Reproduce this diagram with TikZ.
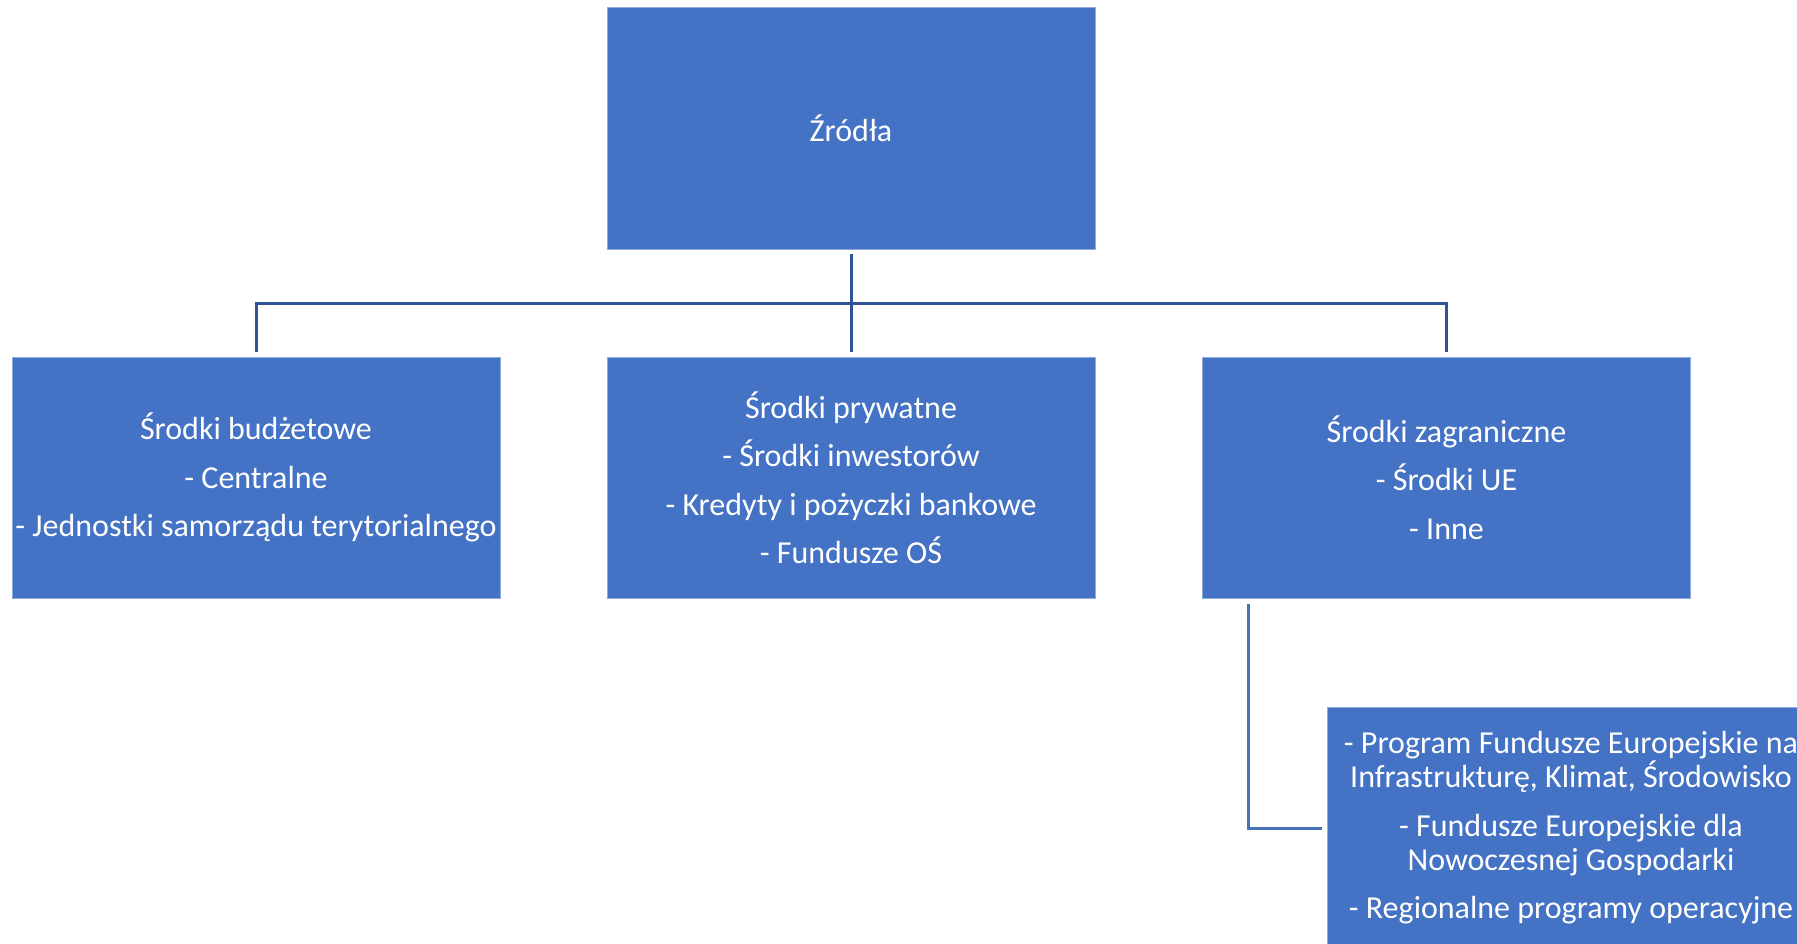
\documentclass[tikz,border=0pt]{standalone}
\usepackage{fontspec}
\setmainfont{Carlito}
\definecolor{boxblue}{HTML}{4472C4}
\definecolor{edgeblue}{HTML}{8FAADC}
\definecolor{linedark}{HTML}{2F5597}
\definecolor{linemid}{HTML}{4A72B8}
\tikzset{
  box/.style={fill=boxblue, draw=edgeblue, line width=0.8pt, minimum width=488pt, minimum height=242pt,
    inner sep=0pt, align=center, text=white, font=\fontsize{32}{34}\selectfont},
  tree/.style={draw=linedark, line width=3pt},
  side/.style={draw=linemid, line width=3pt},
}
\begin{document}
\begin{tikzpicture}[x=1pt,y=-1pt]
\useasboundingbox (0,0) rectangle (1797,943);
\clip (0,0) rectangle (1797,943);
\node[box] (top) at (851,128) {Źródła};
\node[box, minimum height=241pt] (left) at (256,477.5) {Środki budżetowe\\[14.5pt]- Centralne\\[14.5pt]- Jednostki samorządu terytorialnego};
\node[box, minimum height=241pt] (mid) at (851,477.5) {Środki prywatne\\[14.5pt]- Środki inwestorów\\[14.5pt]- Kredyty i pożyczki bankowe\\[14.5pt]- Fundusze OŚ};
\node[box, minimum height=241pt] (right) at (1446.5,477.5) {Środki zagraniczne\\[14.5pt]- Środki UE\\[14.5pt]- Inne};
\node[box] (bot) at (1571,828) {- Program Fundusze Europejskie na\\Infrastrukturę, Klimat, Środowisko\\[14.5pt]- Fundusze Europejskie dla\\Nowoczesnej Gospodarki\\[14.5pt]- Regionalne programy operacyjne};
\coordinate (hub) at (851,303);
\draw[tree] ([yshift=-5pt]top.south) -- ([yshift=5pt]mid.north);
\draw[tree] ([yshift=5pt]left.north) |- (hub) -| ([yshift=5pt]right.north);
\draw[side] ([xshift=46pt,yshift=-6pt]right.south west) |- ([xshift=-5pt]bot.west);
\end{tikzpicture}
\end{document}
